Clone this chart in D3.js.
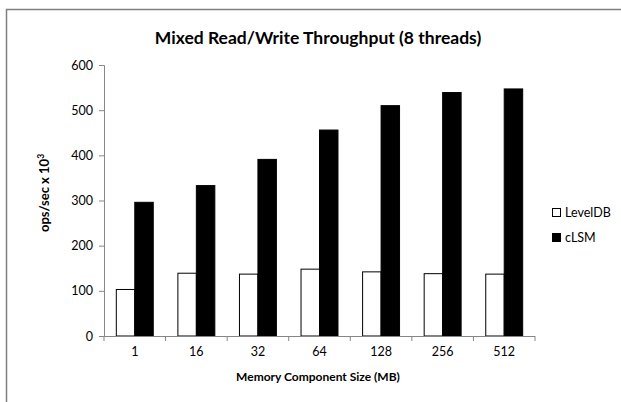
<!DOCTYPE html>
<html><head><meta charset="utf-8">
<script src="https://cdn.jsdelivr.net/npm/d3@7"></script>
<style>body{margin:0;background:#fff}svg{display:block}text{font-family:Lato,"Liberation Sans",sans-serif;fill:#000}</style>
</head><body><svg id="c" width="621" height="402"></svg>
<script>
const categories = ["1","16","32","64","128","256","512"];
const levelDB = [103, 139, 137, 148, 142, 138, 137];
const cLSM = [296, 333, 391, 456, 510, 539, 547];
const seriesNames = ["LevelDB","cLSM"];
const yTicks = [0,100,200,300,400,500,600];

const svg = d3.select("#c");
svg.append("rect").attr("x",6.5).attr("y",9.5).attr("width",700).attr("height",500)
  .attr("fill","none").attr("stroke","#7f7f7f").attr("stroke-width",1.5);

const L=104, R=535, T=65, B=336;
const x = d3.scaleBand().domain(categories).range([L,R]).padding(0);
const y = d3.scaleLinear().domain([0,600]).range([B,T]);

const bw = x.bandwidth()*0.3;
const g = svg.append("g");
const data = categories.map((c,i)=>({c, a:levelDB[i], b:cLSM[i]}));
g.selectAll(".a").data(data).join("rect")
  .attr("x",d=>x(d.c)+x.bandwidth()/2-bw).attr("y",d=>y(d.a))
  .attr("width",bw).attr("height",d=>B-y(d.a))
  .attr("fill","#fff").attr("stroke","#000").attr("stroke-width",1);
g.selectAll(".b").data(data).join("rect")
  .attr("x",d=>x(d.c)+x.bandwidth()/2).attr("y",d=>y(d.b))
  .attr("width",bw).attr("height",d=>B-y(d.b))
  .attr("fill","#000").attr("stroke","#000").attr("stroke-width",1);

// y axis
const ya = svg.append("g").attr("transform",`translate(${L},0)`)
  .call(d3.axisLeft(y).tickValues(yTicks).tickSize(5).tickPadding(6));
ya.select(".domain").attr("stroke","#868686");
ya.selectAll(".tick line").attr("stroke","#868686");
ya.selectAll("text").style("font-size","12.5px").attr("fill","#000");

// x axis
const xa = svg.append("g").attr("transform",`translate(0,${B})`)
  .call(d3.axisBottom(x).tickSize(0).tickPadding(11));
xa.select(".domain").attr("stroke","#868686").attr("d",`M${L},0.5H${R}`);
xa.selectAll("text").style("font-size","12.5px").attr("fill","#000");
const bounds = categories.map(c=>x(c)).concat([R]);
xa.selectAll(".bt").data(bounds).join("line")
  .attr("x1",d=>d).attr("x2",d=>d).attr("y1",0).attr("y2",5).attr("stroke","#868686");

svg.append("text").attr("x",318).attr("y",44).attr("text-anchor","middle")
  .style("font-size","17.5px").style("font-weight","bold").text("Mixed Read/Write Throughput (8 threads)");
svg.append("text").attr("x",318).attr("y",381).attr("text-anchor","middle")
  .style("font-size","12px").style("font-weight","bold").text("Memory Component Size (MB)");
const yt = svg.append("text").attr("transform","translate(49,193) rotate(-90)").attr("text-anchor","middle")
  .style("font-size","13px").style("font-weight","bold");
yt.append("tspan").text("ops/sec x 10");
yt.append("tspan").attr("dy",-5).style("font-size","8.5px").text("3");

// legend
const leg = svg.append("g");
const fills = ["#fff","#000"];
seriesNames.forEach((n,i)=>{
  const yy = 208 + i*25;
  leg.append("rect").attr("x",552.5).attr("y",yy+0.5).attr("width",8).attr("height",8)
    .attr("fill",fills[i]).attr("stroke","#000");
  leg.append("text").attr("x",565).attr("y",yy+8.5).style("font-size","12.5px").text(n);
});
</script></body></html>
